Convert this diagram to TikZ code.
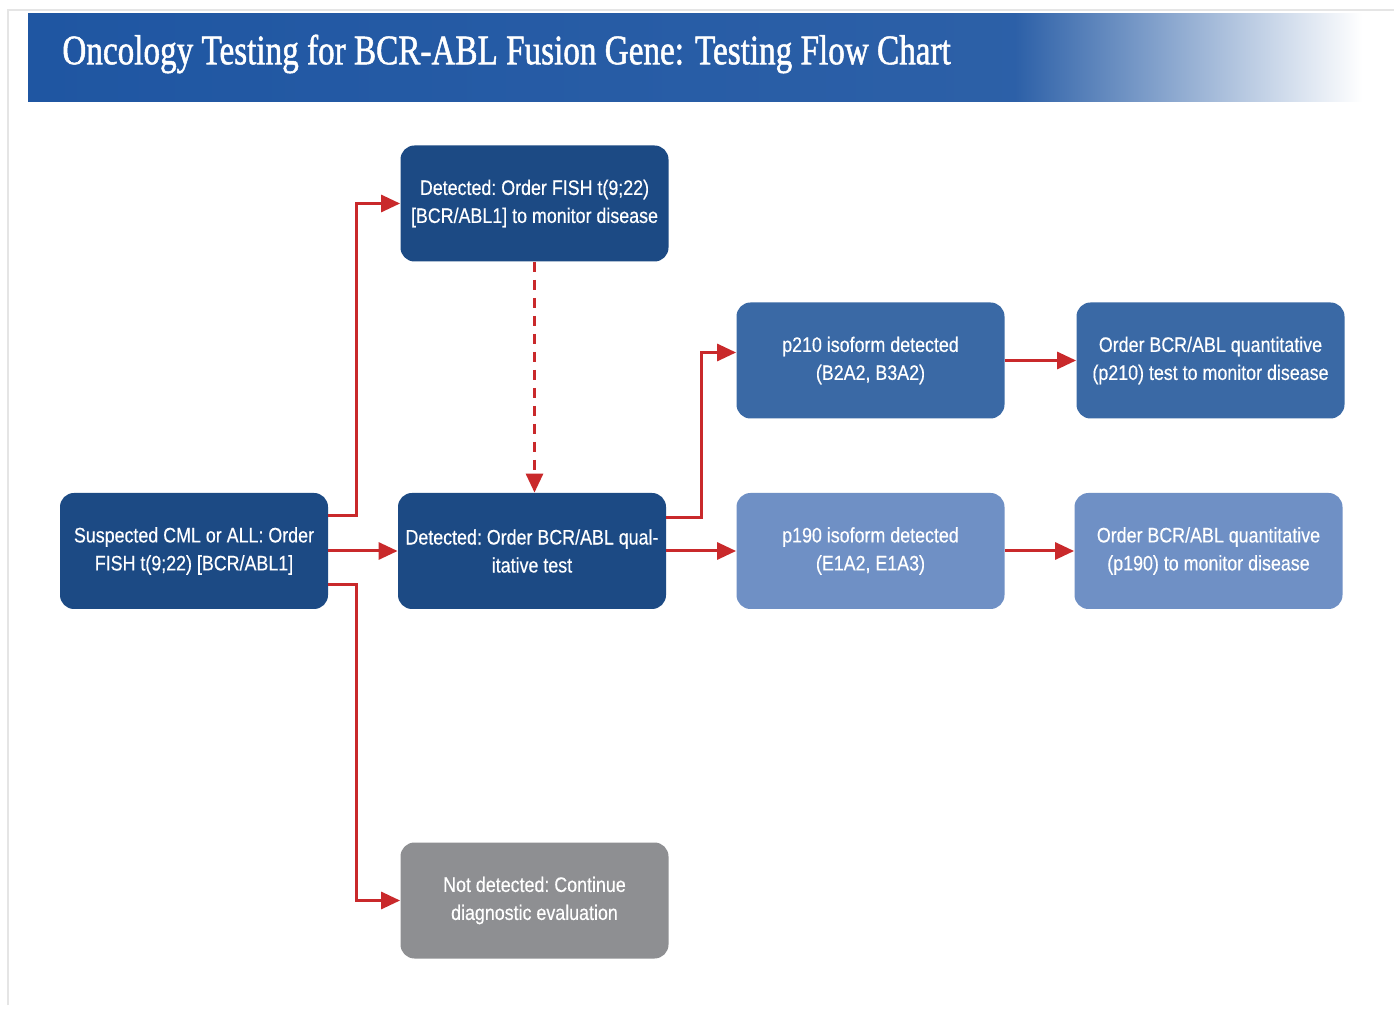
\documentclass[tikz,border=0pt]{standalone}
\usepackage{fontspec}
\setmainfont{Liberation Sans}
\newfontfamily\boxfont[FakeStretch=0.85,FakeBold=0.4]{Liberation Sans}
\newfontfamily\titlefont[FakeStretch=0.79,FakeBold=1.2]{Liberation Serif}
\usetikzlibrary{arrows.meta,calc}
\definecolor{hdrblue}{HTML}{1F56A2}
\definecolor{navy}{HTML}{1C4A84}
\definecolor{midblue}{HTML}{3A69A5}
\definecolor{lightblue}{HTML}{6F90C5}
\definecolor{boxgray}{HTML}{8E8F92}
\definecolor{arrred}{HTML}{C9292B}
\pgfdeclarehorizontalshading{hdrshade}{100bp}{color(0bp)=(hdrblue); color(25bp)=(hdrblue); color(62bp)=(hdrblue!94!white); color(75bp)=(white); color(100bp)=(white)}
\tikzset{
  flowbox/.style={rounded corners=7pt, minimum width=134pt, minimum height=58pt,
    align=center, text=white, inner sep=1pt,
    font=\boxfont\fontsize{10.5pt}{14pt}\selectfont\frenchspacing},
  arr/.style={draw=arrred, line width=1.5pt, -{Triangle[length=9.5pt,width=8.5pt]}},
  dasharr/.style={arr, dash pattern=on 5pt off 4pt}
}
\begin{document}
\begin{tikzpicture}[x=0.5pt,y=-0.5pt]
\useasboundingbox (0,0) rectangle (1394,1010);
\fill[white] (0,0) rectangle (1394,1010);
% page outline
\draw[gray!20, line width=0.8pt] (8,1005) -- (8,10) -- (1394,10);
% header
\shade[shading=hdrshade] (28,14) rectangle (1362,102);
\node[anchor=west, text=white, font=\titlefont\fontsize{21pt}{24pt}\selectfont, inner sep=0pt] (title) at (62,54) {Oncology Testing for BCR-ABL Fusion Gene: Testing Flow Chart};
% boxes
\node[flowbox, fill=navy] (A) at (194,551) {Suspected CML or ALL: Order\\FISH t(9;22) [BCR/ABL1]};
\node[flowbox, fill=navy] (B) at (534.5,203.5) {Detected: Order FISH t(9;22)\\{[BCR/ABL1]} to monitor disease};
\node[flowbox, fill=navy] (C) at (532,551) {Detected: Order BCR/ABL qual-\\itative test};
\node[flowbox, fill=midblue] (D) at (870.5,360.5) {p210 isoform detected\\(B2A2, B3A2)};
\node[flowbox, fill=midblue] (E) at (1210.5,360.5) {Order BCR/ABL quantitative\\(p210) test to monitor disease};
\node[flowbox, fill=lightblue] (F) at (870.5,551) {p190 isoform detected\\(E1A2, E1A3)};
\node[flowbox, fill=lightblue] (G) at (1208.5,551) {Order BCR/ABL quantitative\\(p190) to monitor disease};
\node[flowbox, fill=boxgray] (H) at (534.5,900.5) {Not detected: Continue\\diagnostic evaluation};
% connectors
\draw[arr] ($(A.east)+(0,-35)$) -- ++(28,0) |- (B.west);
\draw[arr] (A.east) -- (C.west);
\draw[arr] ($(A.east)+(0,34)$) -- ++(28,0) |- (H.west);
\draw[dasharr] (B.south) -- (B.south |- C.north);
\draw[arr] ($(C.east)+(0,-33)$) -- ++(35,0) |- ($(D.west)+(0,-8)$);
\draw[arr] (C.east) -- (F.west);
\draw[arr] (D.east) -- (E.west);
\draw[arr] (F.east) -- (G.west);
\end{tikzpicture}
\end{document}
